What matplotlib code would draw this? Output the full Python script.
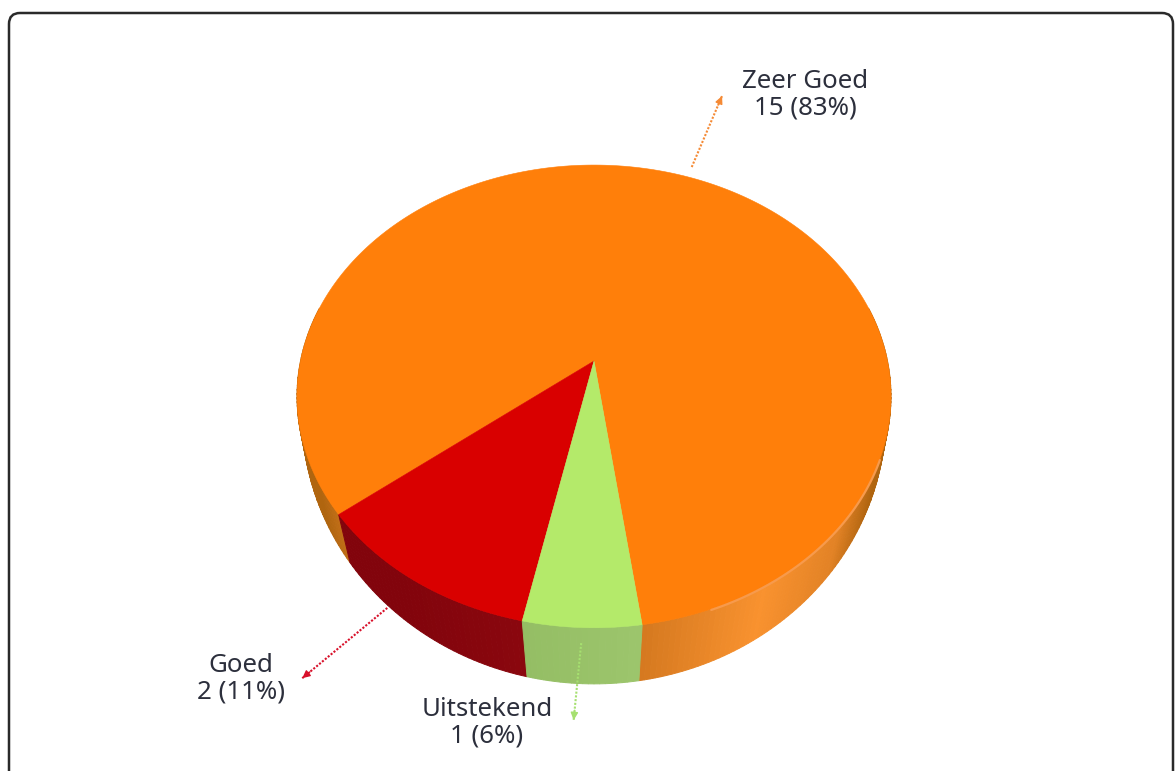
import numpy as np
import matplotlib
matplotlib.use("Agg")
from matplotlib import pyplot as plt
from matplotlib.patches import FancyBboxPatch

labels = ["Zeer Goed", "Goed", "Uitstekend"]
values = [15, 2, 1]
percents = [83, 11, 6]
top_colors = ["#FF7F0A", "#D90000", "#B4EA6A"]
wall_dark = ["#D4781F", "#82040C", "#8CB65C"]
wall_light = ["#F9922F", "#920A10", "#9CC56C"]
arrow_colors = ["#F58A35", "#D8102A", "#A6E070"]

# where the labels and leaders go
label_pos = [(805, 95), (241, 679), (487, 723)]
leader_from = [1.06, 1.114, 1.049]
leader_to = [1.525, 1.416, 1.28]
nudge_from = [0.8, -0.8, 0.0]
nudge_to = [1.6, -3.3, -0.5]

start_angle = -82


def top_xy(t, r=1.0):
    # perspective view of the pie top
    u, v = r * np.cos(t), r * np.sin(t)
    d = 1 + 0.153 * v
    return 594 + 293.5 * u / d, (361 - 170.7 * v) / d


def bottom_xy(t):
    u, v = np.cos(t), np.sin(t)
    d = 1 + 0.1 * v
    return 594 + 290.5 * u / d, (388 - 227.5 * v) / d


def shade(x, i):
    # wall gets lighter around x=765 on the orange part, plain ramp elsewhere
    a = np.array(matplotlib.colors.to_rgb(wall_dark[i]))
    b = np.array(matplotlib.colors.to_rgb(wall_light[i]))
    if i == 0:
        k = np.clip(1 - abs(x - 765) / 125, 0, 1)
        c = a + (b - a) * k
        # far edges go brown
        edge = np.array(matplotlib.colors.to_rgb("#B0650F"))
        e = max(np.clip((x - 840) / 40, 0, 1), np.clip((360 - x) / 40, 0, 1))
        return c + (edge - c) * e
    k = np.clip((x - 400) / 240, 0, 1)
    return a + (b - a) * k


fig = plt.figure(figsize=(11.76, 7.71), dpi=100)
ax = fig.add_axes([0, 0, 1, 1])
ax.set_xlim(0, 1176)
ax.set_ylim(771, 0)
ax.axis("off")

ax.add_patch(FancyBboxPatch((9, 13), 1164, 800, boxstyle="round,pad=0,rounding_size=11",
                            fc="white", ec="#2A2A2A", lw=1.8))

fracs = np.array(values) / sum(values)
ends = start_angle + np.cumsum(fracs) * 360
starts = ends - fracs * 360
mids = (starts + ends) / 2

# side walls first, cut in thin strips for the gradient
for i in range(len(values)):
    tt = np.radians(np.arange(starts[i], ends[i] + 0.5, 1.0))
    tt[-1] = np.radians(ends[i])
    for a, b in zip(tt[:-1], tt[1:]):
        if np.sin((a + b) / 2) > 0.25:
            continue
        x0, y0 = top_xy(a)
        x1, y1 = top_xy(b)
        x2, y2 = bottom_xy(b)
        x3, y3 = bottom_xy(a)
        c = shade((x0 + x1) / 2, i)
        ax.fill([x0, x1, x2, x3], [y0, y1, y2, y3], color=c, lw=0.7, zorder=2)

# top face
for i in range(len(values)):
    tt = np.radians(np.linspace(starts[i], ends[i], 300))
    x, y = top_xy(tt)
    ax.fill(np.r_[594, x], np.r_[361, y], color=top_colors[i], lw=0.4, zorder=3)

# light rim on the orange wall
tt = np.radians(np.linspace(-70, -24, 80))
x, y = top_xy(tt)
ax.plot(x, y + 1, color="#F79A4C", lw=1.6, zorder=4, solid_capstyle="round")

for i in range(len(values)):
    x0, y0 = top_xy(np.radians(mids[i] + nudge_from[i]), leader_from[i])
    x1, y1 = top_xy(np.radians(mids[i] + nudge_to[i]), leader_to[i])
    ax.plot([x0, x1], [y0, y1], color=arrow_colors[i], lw=1.5, ls=(0, (1, 0.8)), zorder=5)
    dx, dy = (x1 - x0), (y1 - y0)
    n = np.hypot(dx, dy)
    ax.annotate("", xy=(x1, y1), xytext=(x1 - dx / n * 10, y1 - dy / n * 10),
                arrowprops=dict(arrowstyle="-|>,head_length=0.45,head_width=0.22",
                                color=arrow_colors[i], lw=1, shrinkA=0, shrinkB=0), zorder=5)
    ax.text(label_pos[i][0], label_pos[i][1], "%s\n%d (%d%%)" % (labels[i], values[i], percents[i]),
            ha="center", va="center", fontsize=18.6, family="Noto Sans", color="#2C2F3C",
            linespacing=1.1, zorder=6)

fig.savefig("out.png", dpi=100)
